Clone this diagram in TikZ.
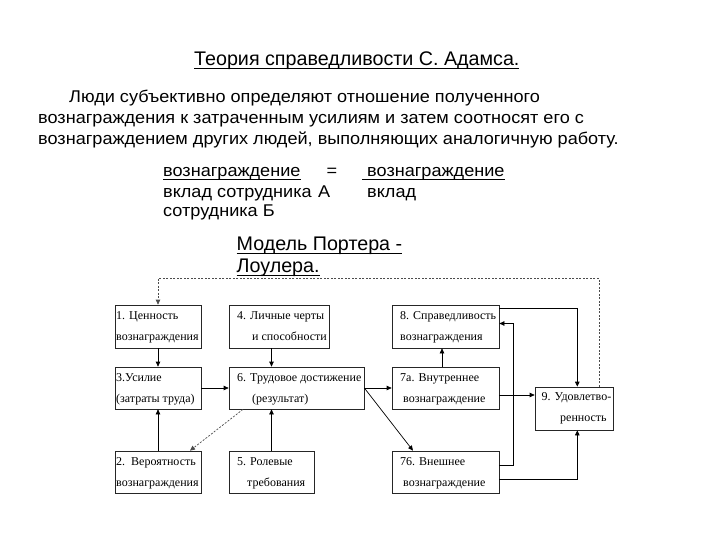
\documentclass[tikz,border=0pt]{standalone}
\usepackage{fontspec}
\setmainfont{Liberation Sans}
\newfontfamily\bodyfont[FakeStretch=1.065]{Liberation Sans}
\newfontfamily\boxfont{Liberation Serif}
\usetikzlibrary{arrows.meta}
\newlength\ulw
\newcommand\myul[1]{\settowidth\ulw{#1}\rlap{\rule[-3.5pt]{\ulw}{1pt}}#1}
\tikzset{
  box/.style={draw=black!85, line width=0.7pt, inner sep=0pt},
  bt/.style={anchor=base west, inner sep=0pt, font=\boxfont\fontsize{12}{14}\selectfont},
  mt/.style={anchor=base west, inner sep=0pt, font=\bodyfont\fontsize{17}{20}\selectfont},
  ht/.style={anchor=base west, inner sep=0pt, font=\fontsize{19.7}{22}\selectfont},
  arr/.style={line width=0.7pt, -{Triangle[length=5pt,width=4.5pt]}},
  darr/.style={line width=0.7pt, black!70, dash pattern=on 2pt off 1.5pt, -{Triangle[length=5pt,width=4.5pt]}}
}
\begin{document}
\begin{tikzpicture}[x=1pt,y=-1pt]
\useasboundingbox (0,0) rectangle (720,540);
% title and text
\node[ht] (title) at (194,66) {\myul{Теория справедливости С. Адамса.}};
\node[mt] (p1) at (69,102.5) {Люди субъективно определяют отношение полученного};
\node[mt] (p2) at (38,124) {вознаграждения к затраченным усилиям и затем соотносят его с};
\node[mt] (p3) at (38,145) {вознаграждением других людей, выполняющих аналогичную работу.};
\node[mt] (f1) at (163,177) {\myul{вознаграждение}};
\node[mt, anchor=base] (feq) at (332,177) {=};
\node[mt] (f2) at (362,177) {\myul{\ вознаграждение}};
\node[mt] (f3) at (163,197) {вклад сотрудника};
\node[mt] (fa) at (318,197) {А};
\node[mt] (f4) at (367,197) {вклад};
\node[mt] (f5) at (163,217) {сотрудника Б};
\node[ht] (m1) at (236.5,250.5) {\myul{Модель Портера -}};
\node[ht] (m2) at (236.5,272.5) {\myul{Лоулера.}};
% boxes
\node[box, minimum width=86pt, minimum height=43pt] (b1) at (158,326.5) {};
\node[box, minimum width=100pt, minimum height=43pt] (b4) at (279,326.5) {};
\node[box, minimum width=107pt, minimum height=43pt] (b8) at (445.5,326.5) {};
\node[box, minimum width=86pt, minimum height=42pt] (b3) at (158,388) {};
\node[box, minimum width=135pt, minimum height=42pt] (b6) at (296.5,388) {};
\node[box, minimum width=107pt, minimum height=42pt] (b7a) at (445.5,388) {};
\node[box, minimum width=78pt, minimum height=43pt] (b9) at (574,408.5) {};
\node[box, minimum width=86pt, minimum height=42pt] (b2) at (158,472) {};
\node[box, minimum width=85pt, minimum height=42pt] (b5) at (271.5,472) {};
\node[box, minimum width=107pt, minimum height=42pt] (b7b) at (445.5,472) {};
% box texts
\node[bt] (t1a) at (116,319) {1. Ценность};
\node[bt] (t1b) at (116,340) {вознаграждения};
\node[bt] (t4a) at (237,319) {4. Личные черты};
\node[bt] (t4b) at (252,340) {и способности};
\node[bt] (t8a) at (400,319) {8. Справедливость};
\node[bt] (t8b) at (400,340) {вознаграждения};
\node[bt] (t3a) at (116,381) {3.Усилие};
\node[bt] (t3b) at (116,402) {(затраты труда)};
\node[bt] (t6a) at (237,381) {6. Трудовое достижение};
\node[bt] (t6b) at (252,402) {(результат)};
\node[bt] (t7a) at (400,381) {7а. Внутреннее};
\node[bt] (t7b) at (403,402) {вознаграждение};
\node[bt] (t9a) at (541.5,400) {9. Удовлетво-};
\node[bt] (t9b) at (560,421.5) {ренность};
\node[bt] (t2a) at (116,465) {2.\ \ Вероятность};
\node[bt] (t2b) at (116,486) {вознаграждения};
\node[bt] (t5a) at (237,465) {5. Ролевые};
\node[bt] (t5b) at (247,486) {требования};
\node[bt] (t7c) at (400,465) {76. Внешнее};
\node[bt] (t7d) at (403,486) {вознаграждение};
% connectors
\draw[arr] (b1.south) -- (b3.north);
\draw[arr] (b4.south -| b5.north) -- (b6.north -| b5.north);
\draw[arr] (b3.east) -- (b6.west);
\draw[arr] (b6.east) -- (b7a.west);
\draw[arr] (b6.east) -- ([xshift=-32.5pt]b7b.north);
\draw[darr] ([xshift=-53.5pt]b6.south) -- ([xshift=32pt]b2.north);
\draw[arr] (b5.north) -- (b6.south -| b5.north);
\draw[arr] (b2.north) -- (b3.south);
\draw[arr] ([xshift=-3.5pt]b7a.north) -- ([xshift=-3.5pt]b8.south);
\draw[arr] ([yshift=-7pt]b7a.east) -- ([yshift=-7pt]b7a.east -| b9.west);
\draw[arr] ([yshift=-4pt]b8.north east) -| ([xshift=3.3pt]b9.north);
\draw[arr] ([yshift=7pt]b7b.east) -- ++(14.3,0) |- ([yshift=3pt]b8.east);
\draw[arr] ([yshift=-7pt]b7b.east) -| ([xshift=3.3pt]b9.south);
\coordinate (topc) at (400,278.5);
\draw[darr] ([xshift=25pt]b9.north) |- (topc) -| (b1.north);
\end{tikzpicture}
\end{document}
